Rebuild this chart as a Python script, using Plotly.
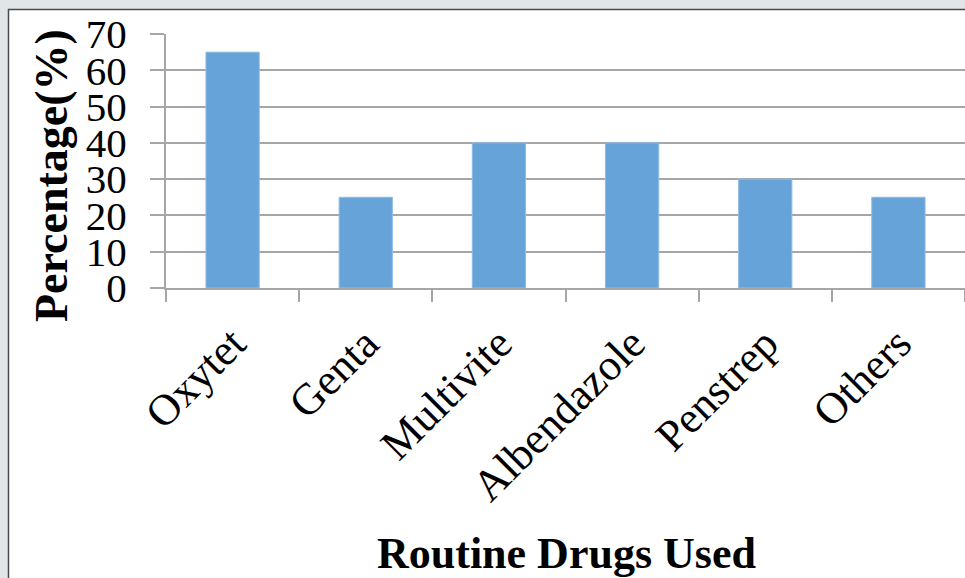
import plotly.graph_objects as go

# Routine drug usage (percentage of respondents)
drugs = ["Oxytet", "Genta", "Multivite", "Albendazole", "Penstrep", "Others"]
percentages = [65, 25, 40, 40, 30, 25]
y_ticks = [0, 10, 20, 30, 40, 50, 60, 70]

W, H = 965, 578
ML, MR, MT, MB = 166, 0, 34, 290
plot_w = W - ML - MR
plot_h = H - MT - MB


def px_to_paper_x(px):
    return (px - ML) / plot_w


def px_to_paper_y(py):
    return (H - MB - py) / plot_h


SERIF = "Liberation Serif, Times New Roman, serif"
GRID = "#a6a6a6"

fig = go.Figure(
    go.Bar(
        x=drugs,
        y=percentages,
        marker=dict(color="#66a3d9", line=dict(color="#8fbbe4", width=1)),
        width=0.4,
    )
)

fig.update_layout(
    width=W,
    height=H,
    margin=dict(l=ML, r=MR, t=MT, b=MB, pad=0),
    paper_bgcolor="#e1e5e7",
    plot_bgcolor="white",
    showlegend=False,
    font=dict(family=SERIF, color="black"),
    shapes=[
        # white card behind the chart with a dark edge on top/left
        dict(
            type="rect",
            xref="paper",
            yref="paper",
            x0=px_to_paper_x(8.5),
            x1=px_to_paper_x(W + 5),
            y0=px_to_paper_y(H + 5),
            y1=px_to_paper_y(9.5),
            fillcolor="white",
            line=dict(color="#4a4a4a", width=1.5),
            layer="below",
        )
    ],
    annotations=[
        dict(
            text="<b>Percentage(%)</b>",
            textangle=-90,
            xref="paper",
            yref="paper",
            x=px_to_paper_x(51),
            y=px_to_paper_y(176),
            xanchor="center",
            yanchor="middle",
            showarrow=False,
            font=dict(family=SERIF, size=46, color="black"),
        ),
        dict(
            text="<b>Routine Drugs Used</b>",
            xref="paper",
            yref="paper",
            x=px_to_paper_x(566),
            y=px_to_paper_y(553),
            xanchor="center",
            yanchor="middle",
            showarrow=False,
            font=dict(family=SERIF, size=44, color="black"),
        ),
    ],
)

fig.update_xaxes(
    type="category",
    range=[-0.5, 5.5],
    showgrid=False,
    showline=True,
    linecolor=GRID,
    linewidth=2,
    ticks="outside",
    tickson="boundaries",
    ticklen=12,
    tickwidth=1.5,
    tickcolor=GRID,
    tickangle=-45,
    tickfont=dict(family=SERIF, size=44, color="black"),
    ticklabelstandoff=10,
)

fig.update_yaxes(
    range=[0, 70],
    tickvals=y_ticks,
    ticktext=[str(v) for v in y_ticks],
    showgrid=True,
    gridcolor=GRID,
    gridwidth=2,
    zeroline=False,
    showline=True,
    linecolor=GRID,
    linewidth=2,
    ticks="outside",
    ticklen=14,
    tickwidth=2,
    tickcolor=GRID,
    tickfont=dict(family=SERIF, size=41, color="black"),
    ticklabelstandoff=15,
)

fig.write_html("out.html")
